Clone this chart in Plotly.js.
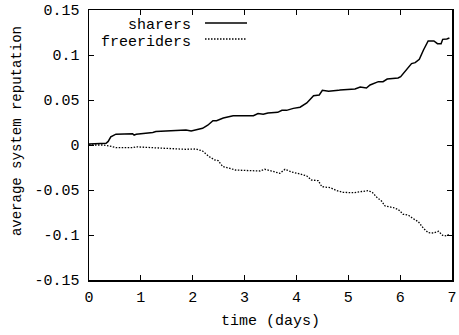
<!DOCTYPE html>
<html>
<head>
<meta charset="utf-8">
<script src="https://cdn.plot.ly/plotly-3.0.1.min.js"></script>
<style>html,body{margin:0;padding:0;background:#fff;}#chart{width:459px;height:335px;}</style>
</head>
<body>
<div id="chart"></div>
<script>
// time (days) and values
const sharersT = [0, 0.33, 0.37, 0.42, 0.52, 0.84, 0.87, 0.91, 1.23, 1.29, 1.87, 1.97, 2.19, 2.29, 2.39, 2.46, 2.59, 2.78, 3.17, 3.26, 3.36, 3.45, 3.64, 3.72, 3.81, 3.94, 4.07, 4.20, 4.33, 4.44, 4.50, 4.62, 4.81, 4.84, 5.13, 5.23, 5.35, 5.42, 5.58, 5.67, 5.75, 5.96, 6.01, 6.09, 6.22, 6.29, 6.37, 6.45, 6.54, 6.65, 6.72, 6.79, 6.82, 6.90, 6.95];
const sharersV = [0.001, 0.002, 0.004, 0.009, 0.012, 0.0125, 0.011, 0.012, 0.014, 0.015, 0.0167, 0.0155, 0.0185, 0.022, 0.027, 0.027, 0.030, 0.0326, 0.0326, 0.035, 0.0343, 0.0356, 0.0363, 0.0385, 0.0385, 0.0407, 0.042, 0.0467, 0.0548, 0.0556, 0.0607, 0.0596, 0.0607, 0.061, 0.0622, 0.0644, 0.0633, 0.0667, 0.0704, 0.0704, 0.0733, 0.0744, 0.0759, 0.0815, 0.0904, 0.0915, 0.0952, 0.1056, 0.1156, 0.1156, 0.1126, 0.1126, 0.1174, 0.1178, 0.1189];

const freeT = [0, 0.26, 0.39, 0.52, 0.84, 0.91, 1.23, 1.87, 2.06, 2.19, 2.32, 2.42, 2.49, 2.58, 2.72, 2.82, 3.30, 3.39, 3.52, 3.68, 3.78, 3.91, 4.07, 4.20, 4.29, 4.42, 4.49, 4.65, 4.78, 4.90, 5.10, 5.26, 5.39, 5.47, 5.55, 5.64, 5.71, 5.87, 5.96, 6.06, 6.16, 6.25, 6.35, 6.45, 6.54, 6.64, 6.74, 6.82, 6.90, 6.95];
const freeV = [0, 0, -0.001, -0.003, -0.003, -0.002, -0.003, -0.0048, -0.0044, -0.0067, -0.013, -0.0165, -0.0174, -0.024, -0.026, -0.0278, -0.0289, -0.027, -0.0289, -0.0315, -0.027, -0.030, -0.0322, -0.0344, -0.0389, -0.0396, -0.0463, -0.0474, -0.0507, -0.0526, -0.053, -0.0519, -0.0507, -0.053, -0.0581, -0.0622, -0.0678, -0.0696, -0.0715, -0.077, -0.078, -0.0818, -0.0852, -0.0926, -0.0974, -0.0978, -0.0959, -0.1004, -0.1011, -0.0985];

const xTickVals = [0, 1, 2, 3, 4, 5, 6, 7];
const xTickText = ["0", "1", "2", "3", "4", "5", "6", "7"];
const yTickVals = [-0.15, -0.1, -0.05, 0, 0.05, 0.1, 0.15];
const yTickText = ["-0.15", "-0.1", "-0.05", "0", "0.05", "0.1", "0.15"];
const seriesNames = ["sharers", "freeriders"];

const FONT = "Courier New, Liberation Mono, DejaVu Sans Mono, monospace";

const traces = [
  {x: sharersT, y: sharersV, name: seriesNames[0], type: 'scatter', mode: 'lines',
   line: {color: '#000', width: 1.5}, showlegend: false, hoverinfo: 'skip'},
  {x: freeT, y: freeV, name: seriesNames[1], type: 'scatter', mode: 'lines',
   line: {color: '#000', width: 1.3, dash: '1.5px,1.5px'}, showlegend: false, hoverinfo: 'skip'}
];

const axisCommon = {
  showline: true, linecolor: '#000', linewidth: 1.5, mirror: 'ticks',
  ticks: 'inside', ticklen: 5, tickwidth: 1, tickcolor: '#000',
  showgrid: false, zeroline: false,
  tickfont: {family: FONT, size: 15, color: '#000'},
  tickmode: 'array', fixedrange: true
};

const layout = {
  width: 459, height: 335,
  margin: {l: 89, r: 7, t: 10, b: 55},
  paper_bgcolor: '#fff', plot_bgcolor: '#fff',
  showlegend: false,
  font: {family: FONT, color: '#000'},
  xaxis: Object.assign({}, axisCommon, {
    range: [0, 7], tickvals: xTickVals, ticktext: xTickText,
    ticklabelstandoff: 2,
    title: {text: 'time (days)', font: {family: FONT, size: 15, color: '#000'}, standoff: 9}
  }),
  yaxis: Object.assign({}, axisCommon, {
    range: [-0.15, 0.15], tickvals: yTickVals, ticktext: yTickText,
    ticklabelstandoff: 5
  }),
  annotations: [
    {text: 'average system reputation', textangle: -90, xref: 'paper', yref: 'paper',
     x: -0.198, y: 0.552, xanchor: 'center', yanchor: 'middle', showarrow: false,
     font: {family: FONT, size: 14, color: '#000'}},
    {text: seriesNames[0], xref: 'paper', yref: 'paper', x: 0.2865, y: 0.943,
     xanchor: 'right', yanchor: 'middle', showarrow: false,
     font: {family: FONT, size: 15, color: '#000'}},
    {text: seriesNames[1], xref: 'paper', yref: 'paper', x: 0.2865, y: 0.881,
     xanchor: 'right', yanchor: 'middle', showarrow: false,
     font: {family: FONT, size: 15, color: '#000'}}
  ],
  shapes: [
    {type: 'line', xref: 'paper', yref: 'paper', x0: 0.3196, x1: 0.4353, y0: 0.9519, y1: 0.9519,
     line: {color: '#000', width: 1.5}},
    {type: 'line', xref: 'paper', yref: 'paper', x0: 0.3196, x1: 0.4353, y0: 0.8926, y1: 0.8926,
     line: {color: '#000', width: 1.3, dash: '1.5px,1.5px'}}
  ]
};

Plotly.newPlot('chart', traces, layout, {displayModeBar: false, staticPlot: true});
</script>
</body>
</html>
